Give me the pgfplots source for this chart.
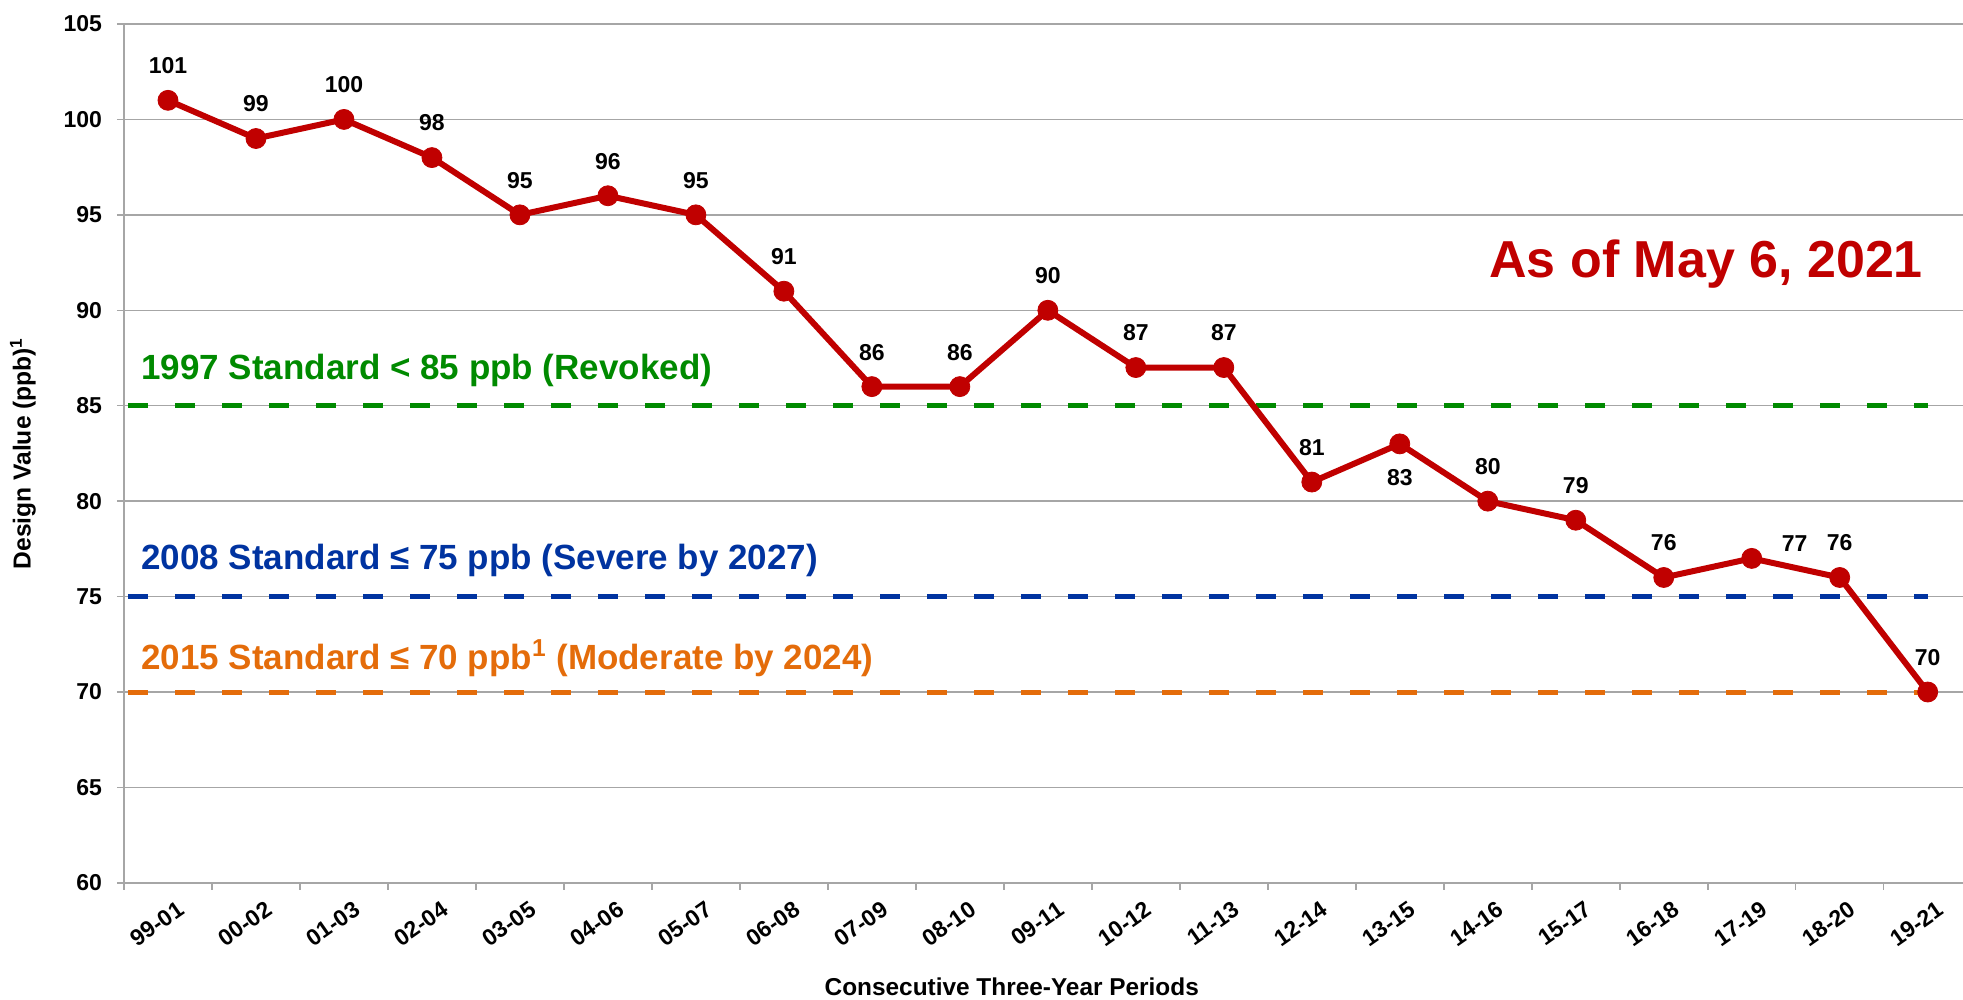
\documentclass[border=0pt]{standalone}
\usepackage{pgfplots}
\pgfplotsset{compat=1.18}
\usepackage{pgfplotstable}
\usepackage{fontspec}
\setmainfont{Liberation Sans}
\definecolor{dvred}{HTML}{C00000}
\definecolor{stdgreen}{HTML}{008A00}
\definecolor{stdblue}{HTML}{0033A0}
\definecolor{stdorange}{HTML}{E46C0A}
\definecolor{gridgray}{HTML}{A6A6A6}

\pgfplotstableread{
x y dx dy
0 101 0 13
1 99 0 13
2 100 0 13
3 98 0 13
4 95 0 13
5 96 0 13
6 95 0 13
7 91 0 13
8 86 0 13
9 86 0 13
10 90 0 13
11 87 0 13
12 87 0 13
13 81 0 13
14 83 0 -21
15 80 0 13
16 79 0 13
17 76 0 13
18 77 21.5 3.5
19 76 0 13
20 70 0 13
}\dvdata

\begin{document}
\begin{tikzpicture}
\begin{axis}[
  scale only axis, width=924pt, height=429.5pt,
  xmin=-0.5, xmax=20.5, ymin=60, ymax=105,
  clip=false,
  axis lines*=left,
  axis line style={draw=gridgray, line width=0.75pt},
  ymajorgrids, grid style={draw=gridgray, line width=0.75pt},
  ytick={60,65,...,105},
  minor ytick={60,65,...,105},
  xtick={0,1,...,20},
  xticklabels={99-01,00-02,01-03,02-04,03-05,04-06,05-07,06-08,07-09,08-10,09-11,10-12,11-13,12-14,13-15,14-16,15-17,16-18,17-19,18-20,19-21},
  minor xtick={-0.5,0.5,...,20.5},
  tick align=outside, major tick length=0pt, minor tick length=3.5pt,
  tick style={draw=gridgray, line width=0.75pt},
  /pgf/number format/assume math mode=true,
  tick label style={font=\bfseries\fontsize{11.5}{13}\selectfont, text=black},
  xticklabel style={rotate=35, anchor=north east, xshift=2pt, yshift=-6pt},
  yticklabel style={anchor=east, xshift=-7.5pt},
]
\coordinate (BL) at (rel axis cs:0,0);
\coordinate (TR) at (rel axis cs:1,1);

\addplot[stdgreen, line width=2.5pt, dash pattern=on 10pt off 13.5pt] coordinates {(-0.45,85) (20,85)};
\addplot[stdblue, line width=2.5pt, dash pattern=on 10pt off 13.5pt] coordinates {(-0.45,75) (20,75)};
\addplot[stdorange, line width=2.5pt, dash pattern=on 10pt off 13.5pt] coordinates {(-0.45,70) (20,70)};

\addplot[dvred, line width=3pt, mark=*, mark size=5pt,
  mark options={solid, fill=dvred, draw=dvred, line width=0.4pt},
  nodes near coords, point meta=explicit symbolic,
  visualization depends on={\thisrow{dx} \as \dx},
  visualization depends on={\thisrow{dy} \as \dy},
  every node near coord/.append style={anchor=south, inner sep=0pt, xshift=\dx pt, yshift=\dy pt, text=black, font=\bfseries\fontsize{11.5}{13}\selectfont}]
  table[x=x, y=y, meta=y] {\dvdata};

\node[anchor=base west, inner sep=0pt, text=stdgreen, font=\bfseries\fontsize{17.5}{20}\selectfont] at (axis cs:-0.307,86.35) {1997 Standard < 85 ppb (Revoked)};
\node[anchor=base west, inner sep=0pt, text=stdblue, font=\bfseries\fontsize{17.5}{20}\selectfont] at (axis cs:-0.307,76.4) {2008 Standard ≤ 75 ppb (Severe by 2027)};
\node[anchor=base west, inner sep=0pt, text=stdorange, font=\bfseries\fontsize{17.5}{20}\selectfont] at (axis cs:-0.307,71.2) {2015 Standard ≤ 70 ppb\textsuperscript{1} (Moderate by 2024)};

\node[anchor=base east, inner sep=0pt, text=dvred, font=\bfseries\fontsize{26}{30}\selectfont] at (axis cs:19.95,91.7) {As of May 6, 2021};

\node[rotate=90, anchor=center, inner sep=0pt, font=\bfseries\fontsize{12.3}{14}\selectfont] at (axis cs:-1.648,82.5) {Design Value (ppb)\textsuperscript{1}};
\node[anchor=base, inner sep=0pt, font=\bfseries\fontsize{12.2}{14}\selectfont] at (axis cs:9.59,54.1) {Consecutive Three-Year Periods};
\end{axis}
\pgfresetboundingbox
\path[use as bounding box] ([shift={(-62pt,-58.5pt)}]BL) rectangle ([shift={(-4.35pt,12pt)}]TR);
\end{tikzpicture}
\end{document}
